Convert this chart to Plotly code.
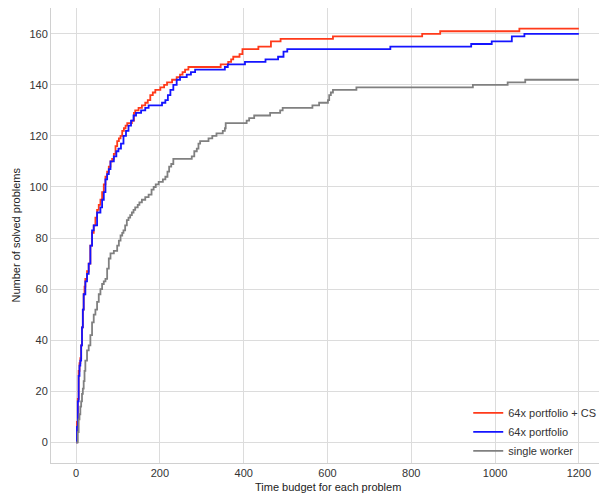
import plotly.graph_objects as go

# 64x portfolio + CS (step breakpoints)
cs_x = [0, 2, 4, 6, 8, 10, 12, 14, 16, 18, 20, 22, 26, 30, 34, 38, 42, 46, 50, 54, 58, 62, 66, 70, 74, 78,
        82, 86, 90, 94, 98, 102, 106, 110, 114, 118, 122, 133, 138, 141, 149, 157, 165, 171, 177, 183, 189,
        201, 210, 217, 229, 240, 248, 254, 260, 268, 345, 363, 370, 375, 390, 397, 435, 465, 488, 613, 826,
        869, 1058, 1200]
cs_y = [0, 8, 17, 28, 31, 33, 38, 45, 52, 58, 61, 64, 67, 70, 77, 82, 85, 88, 91, 93, 95, 98, 101, 104, 106, 108,
        110, 111, 113, 116, 118, 119, 120, 122, 123, 124, 125, 126, 129, 130, 131, 132, 133, 134, 136, 137, 138,
        139, 140, 141, 142, 143, 144, 145, 146, 147, 148, 149, 150, 151, 152, 154, 155, 157, 158, 159, 160,
        161, 162, 162]

# 64x portfolio
pf_x = [0, 2, 4, 6, 8, 10, 12, 14, 16, 18, 22, 26, 30, 34, 38, 42, 50, 58, 62, 66, 70, 74, 78, 82, 90, 96,
        101, 107, 113, 119, 125, 131, 137, 143, 155, 165, 173, 205, 213, 219, 225, 232, 240, 248, 264, 274,
        284, 355, 362, 403, 452, 482, 495, 504, 750, 943, 992, 1040, 1070, 1200]
pf_y = [0, 6, 16, 26, 30, 32, 38, 45, 52, 58, 63, 66, 70, 77, 83, 85, 90, 92, 95, 98, 103, 105, 107, 110, 112, 114,
        115, 117, 120, 122, 124, 126, 128, 129, 130, 131, 132, 133, 134, 136, 138, 140, 142, 143, 144, 145,
        146, 147, 148, 149, 150, 151, 153, 154, 155, 156, 157, 159, 160, 160]

# single worker
sw_x = [0, 4, 6, 8, 10, 12, 14, 16, 18, 20, 22, 26, 30, 34, 38, 42, 46, 50, 54, 58, 62, 66, 70, 74, 78, 82,
        90, 98, 102, 106, 110, 113, 117, 121, 125, 129, 133, 137, 141, 147, 151, 157, 165, 173, 180, 185, 190,
        197, 207, 213, 218, 222, 227, 232, 276, 282, 288, 292, 296, 316, 325, 335, 350, 355, 357, 407, 413,
        425, 463, 487, 493, 564, 580, 601, 604, 608, 613, 669, 947, 1030, 1072, 1200]
sw_y = [0, 4, 9, 11, 14, 16, 19, 21, 24, 28, 32, 36, 38, 42, 47, 50, 52, 55, 58, 60, 62, 63, 64, 68, 72, 74,
        75, 77, 79, 81, 82, 83, 85, 87, 88, 89, 90, 91, 92, 93, 94, 95, 96, 97, 99, 100, 101,
        102, 103, 104, 106, 108, 109, 111, 112, 114, 115, 117, 118, 119, 120, 121, 122, 123, 125, 126, 127,
        128, 129, 130, 131, 132, 133, 134, 136, 137, 138, 139, 140, 141, 142, 142]

x_ticks = [0, 200, 400, 600, 800, 1000, 1200]
y_ticks = [0, 20, 40, 60, 80, 100, 120, 140, 160]

FONT = "Liberation Sans, Arial, sans-serif"

fig = go.Figure()
fig.add_trace(go.Scatter(x=cs_x, y=cs_y, mode="lines", line_shape="hv",
                         line=dict(color="#ff3a1a", width=1.8), name="64x portfolio + CS"))
fig.add_trace(go.Scatter(x=pf_x, y=pf_y, mode="lines", line_shape="hv",
                         line=dict(color="#1414ff", width=1.8), name="64x portfolio"))
fig.add_trace(go.Scatter(x=sw_x, y=sw_y, mode="lines", line_shape="hv",
                         line=dict(color="#808080", width=1.8), name="single worker"))

axis_common = dict(showgrid=True, gridcolor="#dcdcdc", gridwidth=1, zeroline=False,
                   showline=True, linecolor="#d0d0d0", linewidth=1, mirror=True, ticks="",
                   automargin=False,
                   tickfont=dict(family=FONT, size=11, color="#333333"))

fig.update_layout(
    width=599, height=488,
    margin=dict(l=43, r=3, t=0, b=33),
    paper_bgcolor="white", plot_bgcolor="white",
    showlegend=True,
    legend=dict(x=0.995, y=-0.005, xanchor="right", yanchor="bottom",
                bgcolor="rgba(255,255,255,0)", borderwidth=0,
                font=dict(family=FONT, size=11, color="#333333"),
                tracegroupgap=0),
    xaxis=dict(range=[-60, 1260], tickvals=x_ticks, **axis_common),
    yaxis=dict(range=[-8.1, 170.1], tickvals=y_ticks, **axis_common),
    annotations=[
        dict(text="Time budget for each problem", xref="paper", yref="paper",
             x=0.5, y=0, xanchor="center", yanchor="middle", yshift=-24, showarrow=False,
             font=dict(family=FONT, size=11, color="#222222")),
        dict(text="Number of solved problems", xref="paper", yref="paper",
             x=0, y=0.5, xanchor="center", yanchor="middle", xshift=-36, textangle=-90,
             showarrow=False, font=dict(family=FONT, size=11, color="#222222")),
    ],
)

fig.write_html("out.html")
